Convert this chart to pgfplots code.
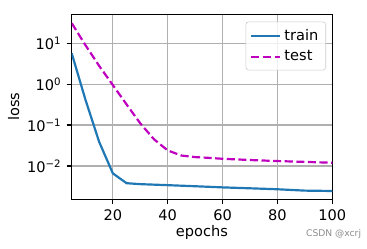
\documentclass[border=0pt]{standalone}
\usepackage{fontspec}
\setmainfont{DejaVu Sans}
\usepackage{pgfplots}
\pgfplotsset{compat=1.18}
\definecolor{c0}{HTML}{1F77B4}
\definecolor{cmag}{rgb}{0.75,0,0.75}
\definecolor{gridc}{HTML}{B0B0B0}
\begin{document}
\begin{tikzpicture}
\path[use as bounding box] (-49.17pt,-34.08pt) rectangle (202.49pt,136.66pt);
\begin{axis}[
  at={(0pt,0pt)}, anchor=south west,
  scale only axis, width=178.7pt, height=126.9pt,
  ymode=log, log basis y=10,
  xmin=5, xmax=100, ymin=0.001535, ymax=51.2,
  xtick={20,40,60,80,100},
  ytick={0.01,0.1,1,10},
  yticklabels={10\textsuperscript{−2},10\textsuperscript{−1},10\textsuperscript{0},10\textsuperscript{1}},
  grid=major, major grid style={gridc, line width=0.8pt},
  axis line style={line width=0.8pt},
  tick align=outside, tick pos=left,
  major tick length=3.5pt, minor tick length=2pt,
  tick style={black, line width=0.8pt},
  minor tick style={black, line width=0.6pt},
  tick label style={font=\fontsize{10}{12}\selectfont},
  /pgf/number format/assume math mode=true,
  xlabel={epochs}, ylabel={loss},
  label style={font=\fontsize{10}{12}\selectfont},
  xlabel style={at={(axis description cs:0.5,-0.1986)}, anchor=base},
  ylabel style={at={(axis description cs:-0.2020,0.5)}, anchor=base},
  legend style={at={(axis description cs:1,1)}, anchor=north east, xshift=-4.3pt, yshift=-5pt,
    draw=black!20, rounded corners=2pt, fill=white, fill opacity=0.8, text opacity=1,
    font=\fontsize{10}{12}\selectfont, row sep=1.5pt, inner ysep=3pt},
  legend cell align=left,
  legend image code/.code={\draw[#1] (0pt,0pt) -- (20pt,0pt);},
]
\addplot[c0, line width=1.5pt] coordinates {
(5,5.7) (10,0.42) (15,0.039) (20,0.0066) (25,0.0038) (30,0.0036) (40,0.0034)
(50,0.0032) (60,0.0030) (70,0.00285) (80,0.0027) (90,0.0025) (100,0.00245)};
\addlegendentry{train}
\addplot[cmag, line width=1.5pt, dash pattern=on 5.55pt off 2.4pt] coordinates {
(5,31) (10,9) (15,2.8) (20,0.95) (25,0.32) (30,0.11) (35,0.045) (40,0.024)
(45,0.018) (50,0.0165) (55,0.0158) (60,0.015) (70,0.014) (80,0.0132) (90,0.0126) (100,0.012)};
\addlegendentry{test}
\end{axis}
\node[anchor=base west, font=\fontsize{6.3}{7}\selectfont, text=black!45] at (157.2pt,-25.85pt) {CSDN @xcrj};
\end{tikzpicture}
\end{document}
